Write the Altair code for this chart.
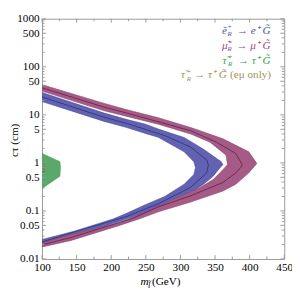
import altair as alt
import pandas as pd

# ---------------- data ----------------
# selectron band: outer edge (upper branch -> tip -> lower branch), inner edge, centre line
sel_out_m = [100, 188.7, 221.4, 249.4, 268, 305.4, 333.4, 359, 361.4, 356.8, 347.4, 333.4, 314.8, 277.4, 244.8, 212, 142, 100]
sel_out_ct = [29.2, 11.0, 8.06, 6.4, 5.06, 3.37, 1.92, 1.06, 0.92, 0.78, 0.53, 0.36, 0.243, 0.130, 0.088, 0.060, 0.0298, 0.020]
sel_in_m = [100, 188.7, 221.4, 249.4, 268, 305.4, 319.4, 321.8, 319.4, 305.4, 277.4, 249.4, 221.4, 202.7, 146.8, 100]
sel_in_ct = [18.9, 7.4, 5.5, 4.1, 3.41, 1.70, 1.06, 0.80, 0.57, 0.36, 0.200, 0.135, 0.088, 0.068, 0.038, 0.0254]
sel_c_m = [100, 188.7, 221.4, 277.4, 314.8, 338, 340.4, 338, 314.8, 268, 221.4, 142, 100]
sel_c_ct = [23.5, 9.0, 6.7, 3.7, 2.14, 1.15, 0.9, 0.62, 0.31, 0.141, 0.0758, 0.035, 0.0225]

# smuon band
smu_out_m = [100, 188.7, 221.4, 268, 314.8, 361.4, 398.8, 410.4, 398.8, 380, 361.4, 314.8, 268, 240, 212, 142, 100]
smu_out_ct = [42.5, 17.5, 12.9, 8.7, 5.45, 3.17, 1.70, 0.97, 0.62, 0.36, 0.26, 0.153, 0.0957, 0.068, 0.050, 0.0243, 0.0178]
smu_in_m = [100, 188.7, 221.4, 268, 314.8, 342.8, 366, 368, 361.4, 347.4, 328.8, 291.4, 249.4, 221.4, 212, 142, 100]
smu_in_ct = [31.3, 12.3, 9.4, 6.38, 4.0, 2.70, 1.45, 0.92, 0.72, 0.45, 0.31, 0.178, 0.0957, 0.064, 0.057, 0.0321, 0.0218]
smu_c_m = [100, 188.7, 221.4, 314.8, 352, 380, 389.4, 387, 380, 361.4, 314.8, 268, 230.8, 142, 100]
smu_c_ct = [36.5, 14.6, 11.0, 4.67, 2.70, 1.57, 0.92, 0.80, 0.62, 0.39, 0.207, 0.121, 0.070, 0.028, 0.0197]

# stau region
stau_m = [100, 125.8, 126.5, 125.8, 100]
stau_ct = [1.57, 1.06, 0.80, 0.53, 0.293]

# stau (e mu only) tiny mark
stem_m = [100.5, 104.5, 102.5, 102.5, 100.5, 104.5]
stem_ct = [0.98, 0.98, 0.98, 0.66, 0.66, 0.66]

# axes
x_labels = [100, 150, 200, 250, 300, 350, 400, 450]
x_minor = [125, 175, 225, 275, 325, 375, 425]
y_labels = [0.01, 0.05, 0.1, 0.5, 1, 5, 10, 50, 100, 500, 1000]
y_minor = [0.02, 0.03, 0.04, 0.06, 0.07, 0.08, 0.09,
           0.2, 0.3, 0.4, 0.6, 0.7, 0.8, 0.9,
           2, 3, 4, 6, 7, 8, 9,
           20, 30, 40, 60, 70, 80, 90,
           200, 300, 400, 600, 700, 800, 900]

legend_base = ["ẽ", "μ̃", "τ̃", "τ̃"]
legend_rest = ["→ e⁺ G̃", "→ μ⁺ G̃", "→ τ⁺ G̃", "→ τ⁺ G̃"]
legend_extra = "(eμ only)"
legend_colors = ["#5252ab", "#9e4a80", "#3c9f52", "#a39359"]

W, H = 249, 247
FONT = "Liberation Serif"
LFS = 11.5

xs = alt.Scale(domain=[100, 450], nice=False, zero=False)
ys = alt.Scale(type="log", domain=[0.01, 1000], nice=False)

XAX = alt.Axis(values=x_labels, format="d", ticks=False, domain=False, grid=False,
               labelFont=FONT, labelFontSize=LFS, labelColor="black", labelPadding=3,
               labelFlush=False, labelOverlap=False, labelBound=False, title=None)
YAX = alt.Axis(values=y_labels, format="~g", ticks=False, domain=False, grid=False,
               labelFont=FONT, labelFontSize=LFS, labelColor="black", labelPadding=3,
               labelFlush=False, labelOverlap=False, labelBound=False, title=None)


def poly(om, oc, im, ic):
    m = list(om) + list(reversed(im))
    c = list(oc) + list(reversed(ic))
    return pd.DataFrame({"m": m, "ct": c, "i": list(range(len(m)))})


def path(m, c):
    return pd.DataFrame({"m": list(m), "ct": list(c), "i": list(range(len(m)))})


def enc(ch):
    return ch.encode(
        x=alt.X("m:Q", scale=xs, axis=XAX),
        y=alt.Y("ct:Q", scale=ys, axis=YAX),
        order=alt.Order("i:Q"),
    )


sel_poly = enc(alt.Chart(poly(sel_out_m, sel_out_ct, sel_in_m, sel_in_ct)).mark_line(
    fill="#6262b3", stroke="#4a4a9a", strokeWidth=0.6, interpolate="linear-closed", clip=True))
smu_poly = enc(alt.Chart(poly(smu_out_m, smu_out_ct, smu_in_m, smu_in_ct)).mark_line(
    fill="#a65b86", stroke="#8a446c", strokeWidth=0.6, interpolate="linear-closed", clip=True))
sel_line = enc(alt.Chart(path(sel_c_m, sel_c_ct)).mark_line(stroke="#2e2e74", strokeWidth=0.8, clip=True))
smu_line = enc(alt.Chart(path(smu_c_m, smu_c_ct)).mark_line(stroke="#5e1f45", strokeWidth=0.8, clip=True))
stau_poly = enc(alt.Chart(path(stau_m, stau_ct)).mark_line(
    fill="#5aa86a", stroke="#4a9a5a", strokeWidth=0.6, interpolate="linear-closed", clip=True))
stem = enc(alt.Chart(path(stem_m, stem_ct)).mark_line(stroke="#66733f", strokeWidth=0.7, clip=True))

TC = "#999999"


def xticks(vals, length):
    d = pd.DataFrame({"m": vals})
    b = alt.Chart(d).mark_rule(color=TC, strokeWidth=1).encode(
        x=alt.X("m:Q", scale=xs, axis=XAX), y=alt.value(H), y2=alt.value(H - length))
    t = alt.Chart(d).mark_rule(color=TC, strokeWidth=1).encode(
        x=alt.X("m:Q", scale=xs, axis=XAX), y=alt.value(0), y2=alt.value(length))
    return [b, t]


def yticks(vals, length):
    d = pd.DataFrame({"ct": vals})
    l = alt.Chart(d).mark_rule(color=TC, strokeWidth=1).encode(
        y=alt.Y("ct:Q", scale=ys, axis=YAX), x=alt.value(0), x2=alt.value(length))
    r = alt.Chart(d).mark_rule(color=TC, strokeWidth=1).encode(
        y=alt.Y("ct:Q", scale=ys, axis=YAX), x=alt.value(W), x2=alt.value(W - length))
    return [l, r]


one = pd.DataFrame({"a": [0]})


def txt(s, x, y, color="black", size=12, italic=False, align="left", angle=0):
    kw = dict(text=s, align=align, baseline="middle", font=FONT, fontSize=size,
              fontStyle="italic" if italic else "normal", color=color)
    if angle:
        kw["angle"] = angle
    return alt.Chart(one).mark_text(**kw).encode(x=alt.value(x), y=alt.value(y))


texts = []
ly = [12.5, 27.8, 43.1, 58.4]
lx = [185.0, 185.0, 185.5, 143.0]
for k in range(4):
    c = legend_colors[k]
    texts.append(txt(legend_base[k], lx[k], ly[k], c, LFS, True))
    texts.append(txt("+", lx[k] + 6.0, ly[k] - 4.0, c, 7))
    texts.append(txt("R", lx[k] + 5.8, ly[k] + 3.5, c, 7, True))
    if k < 3:
        texts.append(txt(legend_rest[k], 235, ly[k], c, LFS, True, "right"))
    else:
        texts.append(txt(legend_rest[k], 190, ly[k], c, LFS, True, "right"))
        texts.append(txt(legend_extra, 235.5, ly[k], c, LFS, False, "right"))

# axis titles
texts.append(txt("m", 101.3, 271, "black", LFS, True))
texts.append(txt("l̃", 109.0, 274, "black", 8.5, True))
texts.append(txt("(GeV)", 113.0, 271, "black", LFS))
texts.append(txt("cτ (cm)", -27.5, 125, "black", LFS, False, "center", 270))

layers = [sel_poly, smu_poly, sel_line, smu_line, stau_poly, stem]
layers += xticks(x_labels, 4) + xticks(x_minor, 2.5) + yticks(y_labels, 4) + yticks(y_minor, 2.5)
layers += texts

chart = alt.layer(*layers).properties(
    width=W, height=H,
    autosize=alt.AutoSizeParams(type="none"),
    padding={"left": 35, "top": 7, "right": 8, "bottom": 34},
).configure_view(stroke=TC, strokeWidth=1)

chart.save("out.html", embed_options={"renderer": "svg", "actions": False})
